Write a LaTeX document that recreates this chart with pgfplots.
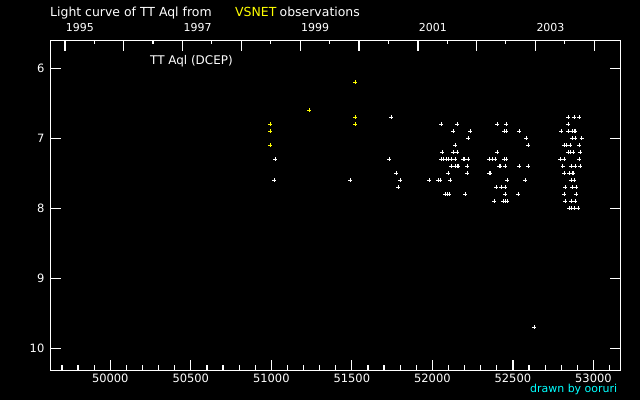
\documentclass[border=0pt]{standalone}
\usepackage{fontspec}
\setmainfont{DejaVu Sans}
\usepackage{pgfplots}
\pgfplotsset{compat=1.18}
\definecolor{vsyellow}{RGB}{255,255,0}
\definecolor{vscyan}{RGB}{0,255,255}
\begin{document}
\begin{tikzpicture}[x=1bp,y=1bp]
\fill[black] (0,0) rectangle (640,400);
\begin{axis}[
  at={(50.7bp,30bp)}, anchor=south west,
  scale only axis, width=569.6bp, height=329.5bp,
  xmin=49630, xmax=53167, ymin=5.603, ymax=10.31, y dir=reverse,
  scaled x ticks=false, scaled y ticks=false,
  axis line style={white, line width=1bp},
  every tick/.style={white, line width=1.2bp},
  tick align=inside,
  major tick length=10bp, minor tick length=5bp,
  xtick={50000,50500,51000,51500,52000,52500,53000},
  xticklabels={50000,50500,51000,51500,52000,52500,53000},
  minor xtick={49700,49800,49900,50100,50200,50300,50400,50600,50700,50800,50900,51100,51200,51300,51400,51600,51700,51800,51900,52100,52200,52300,52400,52600,52700,52800,52900,53100},
  xtick pos=left,
  ytick={6,7,8,9,10}, yticklabels={6,7,8,9,10},
  ytick pos=both, yticklabel pos=left,
  xticklabel style={anchor=base, inner sep=0pt, yshift=-12.3bp, text=white, font=\fontsize{11.5}{13}\selectfont},
  yticklabel style={anchor=east, inner sep=0pt, xshift=-6.2bp, text=white, font=\fontsize{11.5}{13}\selectfont},
  clip=false,
]
\addplot[only marks, mark=+, mark size=2bp, white, mark options={line width=1bp}] coordinates {
(51745,6.7)(52845,6.7)(52882,6.7)(52913,6.7)
(52056,6.8)(52155,6.8)(52404,6.8)(52460,6.8)(52845,6.8)
(52130,6.9)(52236,6.9)(52447,6.9)(52460,6.9)(52540,6.9)(52801,6.9)(52845,6.9)(52870,6.9)(52882,6.9)(52888,6.9)
(52224,7.0)(52584,7.0)(52870,7.0)(52888,7.0)(52926,7.0)
(52143,7.1)(52596,7.1)(52820,7.1)(52832,7.1)(52857,7.1)(52913,7.1)
(52062,7.2)(52130,7.2)(52155,7.2)(52404,7.2)(52845,7.2)(52857,7.2)(52876,7.2)(52919,7.2)
(51025,7.3)(51733,7.3)(52056,7.3)(52068,7.3)(52087,7.3)(52099,7.3)(52118,7.3)(52143,7.3)(52193,7.3)(52199,7.3)(52224,7.3)(52354,7.3)(52373,7.3)(52391,7.3)(52447,7.3)(52460,7.3)(52795,7.3)(52820,7.3)(52913,7.3)
(52118,7.4)(52143,7.4)(52155,7.4)(52162,7.4)(52217,7.4)(52416,7.4)(52422,7.4)(52453,7.4)(52540,7.4)(52596,7.4)(52808,7.4)(52863,7.4)(52888,7.4)(52919,7.4)
(51776,7.5)(52099,7.5)(52217,7.5)(52354,7.5)(52360,7.5)(52820,7.5)(52851,7.5)(52870,7.5)(52876,7.5)
(51019,7.6)(51491,7.6)(51801,7.6)(51981,7.6)(52037,7.6)(52050,7.6)(52112,7.6)(52466,7.6)(52578,7.6)(52863,7.6)(52882,7.6)
(51789,7.7)(52398,7.7)(52429,7.7)(52453,7.7)(52826,7.7)(52870,7.7)(52894,7.7)
(52081,7.8)(52093,7.8)(52106,7.8)(52205,7.8)(52453,7.8)(52534,7.8)(52820,7.8)(52894,7.8)
(52385,7.9)(52441,7.9)(52453,7.9)(52466,7.9)(52826,7.9)(52863,7.9)(52888,7.9)
(52851,8.0)(52863,8.0)(52882,8.0)(52907,8.0)
(52632,9.7)
};
\addplot[only marks, mark=+, mark size=2bp, vsyellow, mark options={line width=1bp}] coordinates {
(50994,6.8)(50994,6.9)(50994,7.1)(51236,6.6)(51522,6.2)(51522,6.7)(51522,6.8)
};
\end{axis}
\begin{axis}[
  at={(50.7bp,30bp)}, anchor=south west,
  scale only axis, width=569.6bp, height=329.5bp,
  xmin=49630, xmax=53167, ymin=0, ymax=1,
  scaled x ticks=false,
  hide y axis,
  axis line style={white, line width=1bp},
  every tick/.style={white, line width=1.2bp},
  tick align=inside,
  major tick length=11bp, minor tick length=3.5bp,
  xtick={49718.5,50083.5,50449.5,50814.5,51179.5,51544.5,51910.5,52275.5,52640.5,53005.5},
  xticklabels={1995,,1997,,1999,,2001,,2003,},
  minor xtick={49899.5,50265.5,50630.5,50995.5,51360.5,51726.5,52091.5,52456.5,52821.5},
  xtick pos=right, xticklabel pos=right,
  xticklabel style={anchor=base west, inner sep=0pt, xshift=0.8bp, yshift=8.7bp, text=white, font=\fontsize{11}{13}\selectfont},
]
\addplot[draw=none] coordinates {(50000,0.5)};
\end{axis}
\node[anchor=base west, inner sep=0pt, text=white, font=\fontsize{12.5}{14}\selectfont] at (50,383.3) {Light curve of TT Aql from};
\node[anchor=base west, inner sep=0pt, text=vsyellow, font=\fontsize{12.5}{14}\selectfont] at (235,383.3) {VSNET};
\node[anchor=base west, inner sep=0pt, text=white, font=\fontsize{12.5}{14}\selectfont] at (279.5,383.3) {observations};
\node[anchor=base west, inner sep=0pt, text=white, font=\fontsize{12}{14}\selectfont] at (150,336) {TT Aql (DCEP)};
\node[anchor=base east, inner sep=0pt, text=vscyan, font=\fontsize{11}{13}\selectfont] at (617.3,7.5) {drawn by ooruri};
\pgfresetboundingbox
\useasboundingbox (0,0) rectangle (640,400);
\end{tikzpicture}
\end{document}
